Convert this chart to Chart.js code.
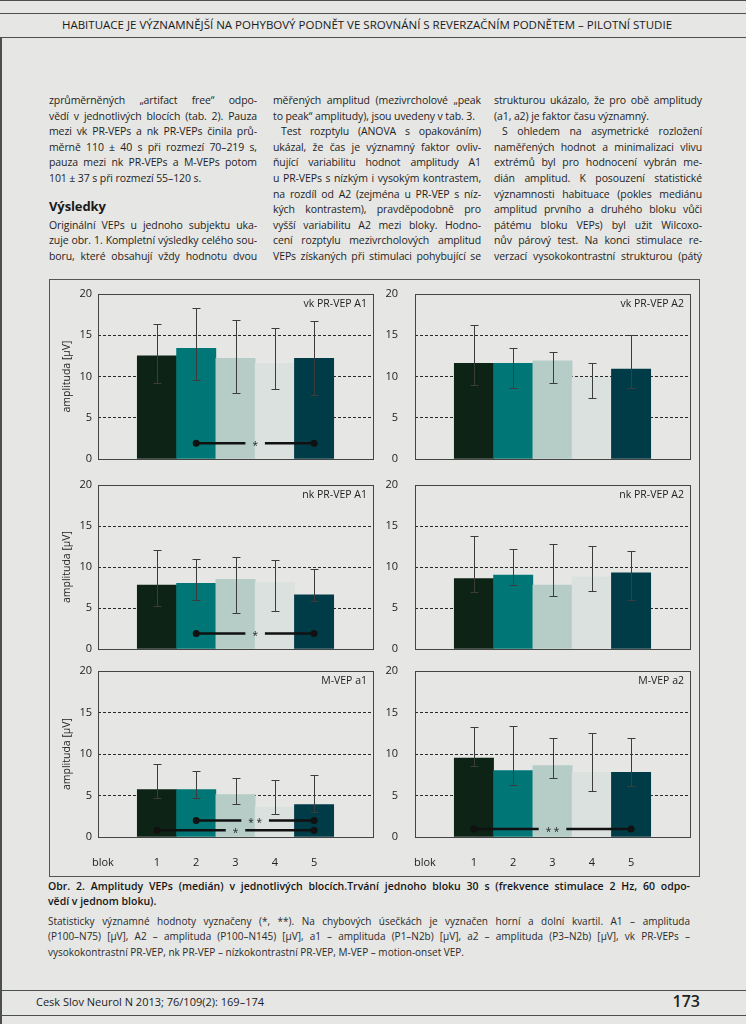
<!DOCTYPE html>
<html lang="cs">
<head>
<meta charset="utf-8">
<title>Obr. 2 – Amplitudy VEPs</title>
<script src="https://cdn.jsdelivr.net/npm/chart.js@4.4.1/dist/chart.umd.min.js"></script>
<style>
  html, body { margin: 0; padding: 0; }
  body {
    width: 746px; height: 1024px; position: relative; overflow: hidden;
    background: #e6e6e4; color: #1e1e1e;
    font-family: "Open Sans", "Noto Sans", sans-serif;
  }
  .linka { position: absolute; left: 0; width: 746px; height: 0; border-top: 1.5px solid #4b504e; }
  .okraj { position: absolute; left: 0; top: 37px; width: 0; height: 990px; border-left: 2px solid #4b504e; }
  .hlava { position: absolute; top: 17px; left: -6px; width: 746px; text-align: center;
           font-size: 11.5px; line-height: 16px; color: #1a1a1a; white-space: nowrap; }
  .sloupec { position: absolute; top: 93px; width: 208px; font-size: 10.5px; line-height: 15.6px; letter-spacing: -0.1px; }
  .ln { text-align: justify; text-align-last: justify; }
  .ln.konec { text-align-last: left; }
  .odsaz { text-indent: 8px; }
  .nadpis { font-weight: 700; font-size: 13px; line-height: 15.6px; color: #1a1a1a; margin-top: -3px; margin-bottom: 3px; }
  .ramecek { position: absolute; left: 49px; top: 279px; width: 649px; height: 596px; border: 1px solid #555; }
  canvas { position: absolute; }
  .blok { position: absolute; top: 855px; left: 92px; font-size: 11px; line-height: 14px; }
  .popis { position: absolute; left: 48px; width: 642px; }
  .popis1 { top: 879px; font-size: 10.5px; line-height: 15px; font-weight: 600; color: #151515; }
  .popis2 { top: 914px; font-size: 10px; line-height: 15.3px; color: #2a2a2a; }
  .pata { position: absolute; top: 995px; left: 36px; font-size: 11px; line-height: 14px; color: #222; }
  .strana { position: absolute; top: 992px; right: 46px; font-size: 16px; line-height: 19px; font-weight: 600; color: #222; }
</style>
</head>
<body>

<div class="linka" style="top:0"></div>
<div class="linka" style="top:13px"></div>
<div class="hlava">HABITUACE JE VÝZNAMNĚJŠÍ NA POHYBOVÝ PODNĚT VE SROVNÁNÍ S REVERZAČNÍM PODNĚTEM – PILOTNÍ STUDIE</div>
<div class="linka" style="top:37px"></div>
<div class="okraj"></div>

<div class="sloupec" style="left:49px">
  <div class="ln">zprůměrněných „artifact free“ odpo-</div>
  <div class="ln">vědí v jednotlivých blocích (tab. 2). Pauza</div>
  <div class="ln">mezi vk PR-VEPs a nk PR-VEPs činila prů-</div>
  <div class="ln">měrně 110 ± 40 s při rozmezí 70–219 s,</div>
  <div class="ln">pauza mezi nk PR-VEPs a M-VEPs potom</div>
  <div class="ln konec">101 ± 37 s při rozmezí 55–120 s.</div>
  <div class="ln konec">&nbsp;</div>
  <div class="nadpis">Výsledky</div>
  <div class="ln">Originální VEPs u jednoho subjektu uka-</div>
  <div class="ln">zuje obr. 1. Kompletní výsledky celého sou-</div>
  <div class="ln">boru, které obsahují vždy hodnotu dvou</div>
</div>

<div class="sloupec" style="left:273px">
  <div class="ln">měřených amplitud (mezivrcholové „peak</div>
  <div class="ln konec">to peak“ amplitudy), jsou uvedeny v tab. 3.</div>
  <div class="ln odsaz">Test rozptylu (ANOVA s opakováním)</div>
  <div class="ln">ukázal, že čas je významný faktor ovliv-</div>
  <div class="ln">ňující variabilitu hodnot amplitudy A1</div>
  <div class="ln">u PR-VEPs s nízkým i vysokým kontrastem,</div>
  <div class="ln">na rozdíl od A2 (zejména u PR-VEP s níz-</div>
  <div class="ln">kých kontrastem), pravděpodobně pro</div>
  <div class="ln">vyšší variabilitu A2 mezi bloky. Hodno-</div>
  <div class="ln">cení rozptylu mezivrcholových amplitud</div>
  <div class="ln">VEPs získaných při stimulaci pohybující se</div>
</div>

<div class="sloupec" style="left:494px">
  <div class="ln">strukturou ukázalo, že pro obě amplitudy</div>
  <div class="ln konec">(a1, a2) je faktor času významný.</div>
  <div class="ln odsaz">S ohledem na asymetrické rozložení</div>
  <div class="ln">naměřených hodnot a minimalizaci vlivu</div>
  <div class="ln">extrémů byl pro hodnocení vybrán me-</div>
  <div class="ln">dián amplitud. K posouzení statistické</div>
  <div class="ln">významnosti habituace (pokles mediánu</div>
  <div class="ln">amplitud prvního a druhého bloku vůči</div>
  <div class="ln">pátému bloku VEPs) byl užit Wilcoxo-</div>
  <div class="ln">nův párový test. Na konci stimulace re-</div>
  <div class="ln">verzací vysokokontrastní strukturou (pátý</div>
</div>

<div class="ramecek"></div>
<canvas id="vkA1" width="329" height="177" style="left:49px;top:286px"></canvas>
<canvas id="vkA2" width="318" height="177" style="left:380px;top:286px"></canvas>
<canvas id="nkA1" width="329" height="176" style="left:49px;top:477px"></canvas>
<canvas id="nkA2" width="318" height="176" style="left:380px;top:477px"></canvas>
<canvas id="mA1" width="329" height="210" style="left:49px;top:663px"></canvas>
<canvas id="mA2" width="318" height="210" style="left:380px;top:663px"></canvas>
<div class="blok">blok</div>
<div class="blok" style="left:414px">blok</div>

<div class="popis popis1">
  <div class="ln">Obr. 2. Amplitudy VEPs (medián) v jednotlivých blocích.Trvání jednoho bloku 30 s (frekvence stimulace 2 Hz, 60 odpo-</div>
  <div class="ln konec">vědí v jednom bloku).</div>
</div>
<div class="popis popis2">
  <div class="ln">Statisticky významné hodnoty vyznačeny (*, **). Na chybových úsečkách je vyznačen horní a dolní kvartil. A1 – amplituda</div>
  <div class="ln">(P100–N75) [µV], A2 – amplituda (P100–N145) [µV], a1 – amplituda (P1–N2b) [µV], a2 – amplituda (P3–N2b) [µV], vk PR-VEPs –</div>
  <div class="ln konec">vysokokontrastní PR-VEP, nk PR-VEP – nízkokontrastní PR-VEP, M-VEP – motion-onset VEP.</div>
</div>

<div class="linka" style="top:990px"></div>
<div class="pata">Cesk Slov Neurol N 2013; 76/109(2): 169–174</div>
<div class="strana">173</div>
<div class="linka" style="top:1015px"></div>

<script>
// bloky a barvy sloupců
const bloky = ['1', '2', '3', '4', '5'];
const barvy = ['#0c2315', '#007776', '#b5cdc6', '#dbe1df', '#003c48'];

// vk PR-VEP A1 – medián, dolní a horní kvartil
const vkA1 = [12.5, 13.4, 12.2, 11.6, 12.2];
const vkA1Dolni = [9.2, 9.6, 8.0, 8.5, 7.8];
const vkA1Horni = [16.4, 18.3, 16.9, 15.9, 16.7];
const vkA1Vyznam = [{ od: 2, k: 5, hodnota: 1.9, znak: '*' }];

// vk PR-VEP A2
const vkA2 = [11.6, 11.6, 11.9, 9.9, 10.9];
const vkA2Dolni = [9.0, 8.6, 9.2, 7.4, 8.6];
const vkA2Horni = [16.3, 13.4, 13.0, 11.6, 15.0];
const vkA2Vyznam = [];

// nk PR-VEP A1
const nkA1 = [7.8, 8.0, 8.5, 8.1, 6.6];
const nkA1Dolni = [5.2, 6.0, 4.4, 4.6, 5.9];
const nkA1Horni = [12.1, 11.0, 11.2, 10.8, 9.7];
const nkA1Vyznam = [{ od: 2, k: 5, hodnota: 1.9, znak: '*' }];

// nk PR-VEP A2
const nkA2 = [8.6, 9.0, 7.8, 8.8, 9.3];
const nkA2Dolni = [7.0, 7.8, 6.5, 7.1, 6.0];
const nkA2Horni = [13.8, 12.2, 12.8, 12.6, 11.9];
const nkA2Vyznam = [];

// M-VEP a1
const mA1 = [5.7, 5.7, 5.1, 3.6, 3.9];
const mA1Dolni = [4.7, 4.7, 4.0, 2.8, 3.0];
const mA1Horni = [8.8, 7.9, 7.1, 6.9, 7.5];
const mA1Vyznam = [
    { od: 2, k: 5, hodnota: 2.0, znak: '**' },
    { od: 1, k: 5, hodnota: 0.8, znak: '*' }
];

// M-VEP a2
const mA2 = [9.5, 8.0, 8.6, 7.8, 7.8];
const mA2Dolni = [8.5, 6.3, 7.1, 5.5, 6.2];
const mA2Horni = [13.2, 13.4, 11.9, 12.5, 11.9];
const mA2Vyznam = [{ od: 1, k: 5, hodnota: 0.95, znak: '**' }];

// zarovnání řádků textu do sloupce (když se řádek nevejde, stáhnout proklad)
document.querySelectorAll('.ln').forEach(el => {
    let ls = parseFloat(getComputedStyle(el).letterSpacing) || 0;
    while (el.scrollHeight > 20 && ls > -1) {
        ls -= 0.05;
        el.style.letterSpacing = ls + 'px';
    }
});

Chart.defaults.font.family = '"Open Sans", "Noto Sans", sans-serif';
Chart.defaults.color = '#222';

// rámeček, chybové úsečky, vyznačení významnosti a název panelu
const panelPlugin = {
    id: 'panel',
    afterDatasetsDraw(chart, args, opts) {
        const { ctx, chartArea: a, scales: { x, y } } = chart;
        ctx.save();

        ctx.strokeStyle = '#3c3c3c';
        ctx.lineWidth = 1;
        opts.horni.forEach((h, i) => {
            const cx = Math.round(x.getPixelForValue(i + 1)) + 0.5;
            const yt = Math.round(y.getPixelForValue(h)) + 0.5;
            const yb = Math.round(y.getPixelForValue(opts.dolni[i])) + 0.5;
            ctx.beginPath();
            ctx.moveTo(cx, yt); ctx.lineTo(cx, yb);
            ctx.moveTo(cx - 4, yt); ctx.lineTo(cx + 4, yt);
            ctx.moveTo(cx - 4, yb); ctx.lineTo(cx + 4, yb);
            ctx.stroke();
        });

        ctx.font = '10px "Open Sans"';
        ctx.textAlign = 'center';
        ctx.textBaseline = 'middle';
        opts.vyznam.forEach(v => {
            const x1 = x.getPixelForValue(v.od);
            const x2 = x.getPixelForValue(v.k);
            const yy = y.getPixelForValue(v.hodnota);
            const text = v.znak.split('').join(' ');
            const mezera = ctx.measureText(text).width + 14;
            const xm = (x1 + x2) / 2;
            ctx.strokeStyle = '#111';
            ctx.lineWidth = 2.5;
            ctx.beginPath();
            ctx.moveTo(x1, yy); ctx.lineTo(xm - mezera / 2, yy);
            ctx.moveTo(xm + mezera / 2, yy); ctx.lineTo(x2, yy);
            ctx.stroke();
            ctx.fillStyle = '#111';
            [x1, x2].forEach(px => {
                ctx.beginPath();
                ctx.arc(px, yy, 3.5, 0, Math.PI * 2);
                ctx.fill();
            });
            ctx.fillStyle = '#222';
            ctx.fillText(text, xm, yy + 3);
        });

        ctx.strokeStyle = '#444';
        ctx.lineWidth = 1;
        ctx.strokeRect(Math.round(a.left) + 0.5, Math.round(a.top) + 0.5,
            Math.round(a.width), Math.round(a.height));

        ctx.font = '10.5px "Open Sans"';
        ctx.fillStyle = '#222';
        ctx.textAlign = 'right';
        ctx.fillText(opts.nazev, a.right - 6, a.top + 10);
        ctx.restore();
    }
};

function vytvorGraf(id, nazev, median, dolni, horni, vyznam, vlevo, spodni) {
    new Chart(document.getElementById(id), {
        type: 'bar',
        data: {
            labels: ['', ...bloky, ''],
            datasets: [{
                data: [null, ...median, null],
                backgroundColor: ['rgba(0,0,0,0)', ...barvy, 'rgba(0,0,0,0)'],
                borderWidth: 0,
                barPercentage: 1,
                categoryPercentage: 1
            }]
        },
        options: {
            responsive: false,
            animation: false,
            events: [],
            layout: { padding: { top: 8, right: vlevo ? 5 : 8, bottom: 0, left: 0 } },
            plugins: {
                legend: { display: false },
                tooltip: { enabled: false },
                panel: { nazev, dolni, horni, vyznam }
            },
            scales: {
                x: {
                    grid: { display: false, drawTicks: false },
                    border: { display: false },
                    ticks: {
                        display: spodni, color: '#222', font: { size: 11 },
                        padding: 19, autoSkip: false, maxRotation: 0
                    },
                    afterFit: s => {
                        s.height = spodni ? 36 : 4;
                        s.paddingLeft = 0;
                        s.paddingRight = 0;
                    }
                },
                y: {
                    min: 0,
                    max: 20,
                    grid: {
                        color: c => (c.tick && c.tick.value > 0 && c.tick.value < 20) ? '#2a2a2a' : 'rgba(0,0,0,0)',
                        drawTicks: false,
                        lineWidth: 1
                    },
                    border: { display: false, dash: [3, 2] },
                    ticks: { stepSize: 5, color: '#222', font: { size: 11 }, padding: vlevo ? 6 : 17 },
                    title: {
                        display: vlevo, text: 'amplituda [µV]', color: '#222',
                        font: { size: 10.5 }, padding: { top: 12, bottom: 0 }
                    },
                    afterFit: s => {
                        s.width = vlevo ? 49 : 35;
                        s.paddingTop = 0;
                        s.paddingBottom = 0;
                    }
                }
            }
        },
        plugins: [panelPlugin]
    });
}

vytvorGraf('vkA1', 'vk PR-VEP A1', vkA1, vkA1Dolni, vkA1Horni, vkA1Vyznam, true, false);
vytvorGraf('vkA2', 'vk PR-VEP A2', vkA2, vkA2Dolni, vkA2Horni, vkA2Vyznam, false, false);
vytvorGraf('nkA1', 'nk PR-VEP A1', nkA1, nkA1Dolni, nkA1Horni, nkA1Vyznam, true, false);
vytvorGraf('nkA2', 'nk PR-VEP A2', nkA2, nkA2Dolni, nkA2Horni, nkA2Vyznam, false, false);
vytvorGraf('mA1', 'M-VEP a1', mA1, mA1Dolni, mA1Horni, mA1Vyznam, true, true);
vytvorGraf('mA2', 'M-VEP a2', mA2, mA2Dolni, mA2Horni, mA2Vyznam, false, true);
</script>
</body>
</html>
